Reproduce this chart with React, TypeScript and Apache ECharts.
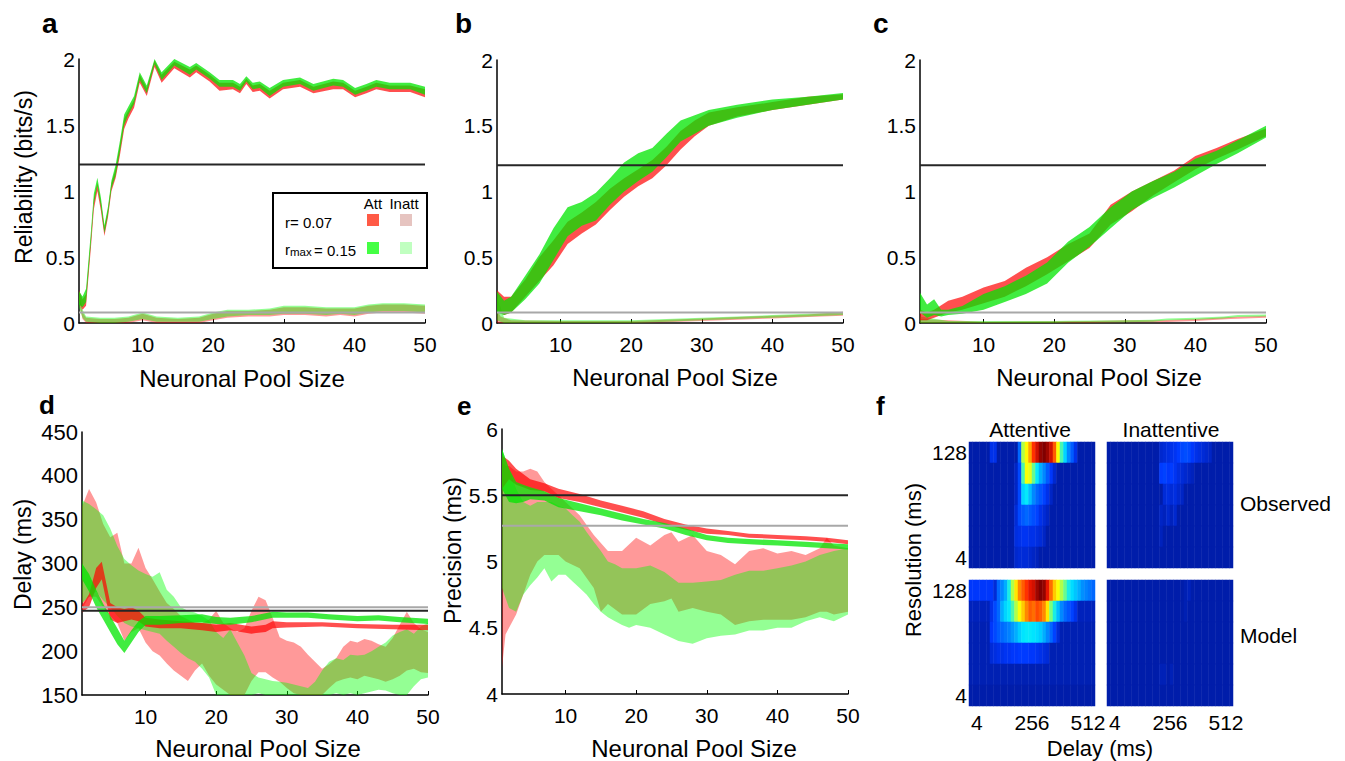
import { useEffect, useRef } from 'react';
import * as echarts from 'echarts';

type Band = [number, number, number][]; // [pool size, lower, upper]

const FONT = 'Liberation Sans';

// ---- shared axis values ----
const POOL_MIN = 1;
const POOL_MAX = 50;
const POOL_TICKS = [10, 20, 30, 40, 50];

// ---- a: reliability (bits/s), all neurons ----
const A_ATT_R: Band = [
  [1, 0.16, 0.25], [1.5, 0.1, 0.18], [2, 0.13, 0.22], [2.7, 0.58, 0.66], [3.1, 0.86, 0.94], [3.6, 1.0, 1.06],
  [4.1, 0.85, 0.92], [4.6, 0.66, 0.72], [5.1, 0.8, 0.86], [5.6, 1.0, 1.06], [6.2, 1.1, 1.17], [6.8, 1.27, 1.35],
  [7.4, 1.47, 1.55], [8, 1.55, 1.61], [8.8, 1.63, 1.69], [9.6, 1.82, 1.88], [10.6, 1.72, 1.78], [11.7, 1.94, 1.99],
  [12.7, 1.82, 1.88], [14.5, 1.93, 1.98], [16.7, 1.86, 1.92], [17.6, 1.9, 1.95], [19.5, 1.83, 1.88], [20.9, 1.76, 1.82],
  [22.8, 1.77, 1.82], [23.8, 1.74, 1.79], [24.7, 1.81, 1.85], [25.6, 1.75, 1.8], [26.6, 1.76, 1.81], [28, 1.7, 1.76],
  [29.9, 1.77, 1.82], [32.3, 1.79, 1.84], [34.2, 1.74, 1.79], [37, 1.77, 1.83], [38.4, 1.77, 1.82], [40.1, 1.71, 1.76],
  [41.7, 1.74, 1.79], [43.1, 1.77, 1.82], [45, 1.75, 1.8], [47.9, 1.75, 1.8], [50, 1.71, 1.77],
];
const A_ATT_RMAX: Band = [
  [1, 0.14, 0.24], [1.5, 0.12, 0.2], [2, 0.16, 0.26], [2.7, 0.62, 0.7], [3.1, 0.9, 0.98], [3.6, 1.04, 1.1],
  [4.1, 0.88, 0.95], [4.6, 0.68, 0.74], [5.1, 0.82, 0.88], [5.6, 1.02, 1.08], [6.2, 1.12, 1.2], [6.8, 1.3, 1.38],
  [7.4, 1.5, 1.58], [8, 1.58, 1.64], [8.8, 1.66, 1.72], [9.6, 1.84, 1.9], [10.6, 1.74, 1.8], [11.7, 1.96, 2.01],
  [12.7, 1.84, 1.9], [14.5, 1.95, 2.0], [16.7, 1.88, 1.94], [17.6, 1.92, 1.97], [19.5, 1.85, 1.9], [20.9, 1.79, 1.84],
  [22.8, 1.79, 1.84], [23.8, 1.76, 1.81], [24.7, 1.83, 1.87], [25.6, 1.77, 1.82], [26.6, 1.78, 1.83], [28, 1.72, 1.78],
  [29.9, 1.79, 1.84], [32.3, 1.81, 1.86], [34.2, 1.76, 1.81], [37, 1.8, 1.85], [38.4, 1.79, 1.84], [40.1, 1.73, 1.78],
  [41.7, 1.76, 1.81], [43.1, 1.79, 1.84], [45, 1.77, 1.82], [47.9, 1.77, 1.82], [50, 1.73, 1.79],
];
const A_INATT_R: Band = [
  [1, 0.15, 0.24], [1.5, 0.03, 0.08], [2, 0.0, 0.04], [4, 0.0, 0.03], [6, 0.0, 0.03], [8, 0.0, 0.04], [10, 0.02, 0.07],
  [12, 0.0, 0.04], [15, 0.0, 0.03], [18, 0.0, 0.04], [20, 0.02, 0.07], [22, 0.04, 0.09], [25, 0.05, 0.09], [28, 0.05, 0.1],
  [30, 0.06, 0.12], [33, 0.06, 0.12], [36, 0.05, 0.11], [38, 0.06, 0.11], [40, 0.05, 0.11], [42, 0.07, 0.13],
  [44, 0.08, 0.14], [47, 0.08, 0.14], [50, 0.07, 0.13],
];
const A_INATT_RMAX: Band = [
  [1, 0.12, 0.22], [1.5, 0.04, 0.1], [2, 0.01, 0.05], [4, 0.0, 0.04], [6, 0.0, 0.04], [8, 0.01, 0.05], [10, 0.03, 0.08],
  [12, 0.01, 0.05], [15, 0.01, 0.04], [18, 0.01, 0.05], [20, 0.03, 0.08], [22, 0.05, 0.1], [25, 0.06, 0.1], [28, 0.06, 0.11],
  [30, 0.07, 0.13], [33, 0.07, 0.13], [36, 0.06, 0.12], [38, 0.07, 0.12], [40, 0.06, 0.12], [42, 0.08, 0.14],
  [44, 0.09, 0.15], [47, 0.09, 0.15], [50, 0.08, 0.14],
];

// ---- b: reliability (bits/s), second neuron group ----
const B_ATT_R: Band = [
  [1, 0.1, 0.25], [2, 0.06, 0.2], [3, 0.08, 0.2], [5, 0.2, 0.33], [7, 0.32, 0.5], [9, 0.44, 0.63], [11, 0.6, 0.77],
  [13, 0.68, 0.84], [15, 0.75, 0.92], [17, 0.86, 1.02], [19, 0.96, 1.1], [21, 1.04, 1.17], [23, 1.1, 1.24], [25, 1.2, 1.34],
  [27, 1.32, 1.46], [29, 1.42, 1.54], [31, 1.5, 1.6], [35, 1.57, 1.64], [40, 1.62, 1.68], [45, 1.66, 1.72], [50, 1.7, 1.74],
];
const B_ATT_RMAX: Band = [
  [1, 0.08, 0.24], [2, 0.06, 0.17], [3, 0.08, 0.2], [5, 0.18, 0.36], [7, 0.3, 0.52], [9, 0.48, 0.72], [11, 0.66, 0.88],
  [13, 0.74, 0.92], [15, 0.78, 0.99], [17, 0.9, 1.1], [19, 1.0, 1.22], [21, 1.08, 1.29], [23, 1.15, 1.33], [25, 1.26, 1.44],
  [27, 1.38, 1.54], [29, 1.44, 1.58], [31, 1.5, 1.62], [35, 1.56, 1.66], [40, 1.62, 1.7], [45, 1.66, 1.72], [50, 1.7, 1.75],
];
const B_INATT_R: Band = [
  [1, 0.0, 0.1], [1.5, 0.0, 0.05], [3, 0.0, 0.02], [10, 0.0, 0.015], [20, 0.0, 0.015], [25, 0.005, 0.025],
  [30, 0.015, 0.035], [35, 0.025, 0.045], [40, 0.035, 0.055], [45, 0.045, 0.065], [50, 0.055, 0.085],
];
const B_INATT_RMAX: Band = [
  [1, 0.02, 0.2], [1.5, 0.01, 0.12], [2, 0.0, 0.04], [5, 0.0, 0.02], [10, 0.0, 0.02], [15, 0.0, 0.02], [20, 0.0, 0.02],
  [25, 0.01, 0.03], [30, 0.02, 0.04], [35, 0.03, 0.05], [40, 0.04, 0.06], [45, 0.05, 0.07], [50, 0.06, 0.08],
];

// ---- c: reliability (bits/s), third neuron group ----
const C_ATT_R: Band = [
  [1, 0.02, 0.1], [2, 0.02, 0.08], [3, 0.04, 0.1], [5, 0.08, 0.17], [7, 0.1, 0.2], [10, 0.15, 0.27], [13, 0.2, 0.32],
  [16, 0.28, 0.42], [19, 0.37, 0.5], [22, 0.47, 0.6], [25, 0.57, 0.68], [28, 0.75, 0.9], [31, 0.85, 1.0], [34, 0.97, 1.08],
  [37, 1.07, 1.16], [40, 1.17, 1.27], [43, 1.25, 1.33], [46, 1.32, 1.4], [50, 1.42, 1.48],
];
const C_ATT_RMAX: Band = [
  [1, 0.08, 0.23], [2, 0.04, 0.14], [3, 0.06, 0.18], [4, 0.05, 0.1], [5, 0.06, 0.1], [7, 0.07, 0.13], [10, 0.1, 0.22],
  [13, 0.16, 0.28], [16, 0.22, 0.36], [19, 0.3, 0.46], [22, 0.46, 0.62], [25, 0.58, 0.73], [28, 0.72, 0.88], [31, 0.86, 1.0],
  [34, 0.95, 1.08], [37, 1.03, 1.15], [40, 1.12, 1.25], [43, 1.21, 1.31], [46, 1.29, 1.39], [50, 1.41, 1.5],
];
const C_INATT_R: Band = [
  [1, 0.0, 0.03], [10, 0.0, 0.01], [25, 0.0, 0.015], [30, 0.005, 0.02], [35, 0.005, 0.02], [40, 0.015, 0.03],
  [45, 0.03, 0.045], [50, 0.04, 0.055],
];
const C_INATT_RMAX: Band = [
  [1, 0.0, 0.05], [5, 0.0, 0.015], [10, 0.0, 0.015], [20, 0.0, 0.015], [22, 0.003, 0.018], [30, 0.005, 0.02],
  [34, 0.01, 0.025], [36, 0.02, 0.035], [40, 0.025, 0.04], [44, 0.035, 0.05], [46, 0.045, 0.06], [50, 0.05, 0.065],
];

const RELIABILITY_REF = 1.2;
const RELIABILITY_BASE = 0.08;

// ---- d: delay (ms) ----
const D_ATT_R: Band = [
  [1, 244, 252], [2, 250, 265], [3, 272, 295], [3.8, 282, 302], [4.5, 255, 275], [5, 236, 255], [6, 232, 250],
  [7, 234, 248], [8, 236, 250], [9, 234, 246], [10, 228, 238], [12, 226, 236], [15, 226, 234], [18, 224, 232],
  [20, 222, 230], [22, 224, 232], [25, 220, 228], [27, 222, 230], [28, 226, 234], [30, 227, 233], [35, 228, 233],
  [40, 226, 231], [45, 225, 230], [50, 224, 230],
];
const D_ATT_RMAX: Band = [
  [1, 282, 300], [2, 268, 288], [3, 250, 270], [4, 236, 254], [5, 222, 240], [6, 208, 226], [7, 198, 212],
  [8, 210, 224], [9, 222, 234], [10, 230, 240], [12, 230, 240], [15, 232, 241], [18, 233, 242], [20, 231, 239],
  [22, 230, 238], [25, 233, 240], [28, 238, 245], [30, 238, 244], [33, 238, 244], [36, 236, 242], [40, 234, 240],
  [43, 235, 241], [46, 233, 239], [50, 231, 237],
];
const D_INATT_R: Band = [
  [1, 248, 365], [2, 262, 385], [3, 262, 370], [4, 250, 345], [5, 240, 330], [6, 232, 335], [7, 212, 300],
  [8, 222, 300], [9, 226, 318], [10, 210, 295], [11, 200, 282], [12, 195, 268], [13, 186, 255], [14, 178, 248],
  [15, 172, 240], [16, 166, 236], [17, 178, 232], [18, 186, 232], [19, 172, 236], [20, 162, 246], [21, 156, 232],
  [22, 150, 226], [23, 142, 222], [24, 150, 226], [25, 166, 246], [26, 176, 262], [27, 176, 258], [28, 170, 238],
  [29, 165, 216], [30, 158, 212], [31, 152, 210], [32, 142, 205], [33, 132, 196], [34, 140, 188], [35, 150, 180],
  [36, 158, 185], [37, 165, 192], [38, 168, 205], [39, 170, 212], [40, 168, 210], [41, 172, 214], [42, 170, 212],
  [43, 168, 208], [44, 165, 205], [45, 168, 215], [46, 172, 230], [47, 178, 245], [48, 180, 232], [49, 176, 225],
  [50, 175, 222],
];
const D_INATT_RMAX: Band = [
  [1, 255, 372], [2, 262, 368], [3, 268, 362], [4, 258, 355], [5, 250, 340], [6, 240, 320], [7, 232, 305],
  [8, 228, 298], [9, 226, 292], [10, 224, 288], [11, 222, 285], [12, 220, 290], [13, 212, 270], [14, 205, 262],
  [15, 198, 250], [16, 192, 246], [17, 188, 244], [18, 180, 240], [19, 170, 235], [20, 150, 222], [21, 142, 215],
  [22, 140, 225], [23, 138, 210], [24, 140, 195], [25, 150, 175], [26, 152, 170], [27, 150, 168], [28, 150, 166],
  [29, 148, 165], [30, 146, 164], [31, 145, 162], [32, 143, 160], [33, 140, 158], [34, 142, 165], [35, 145, 178],
  [36, 150, 188], [37, 152, 192], [38, 150, 190], [39, 152, 196], [40, 150, 195], [41, 152, 196], [42, 154, 200],
  [43, 156, 205], [44, 155, 210], [45, 152, 218], [46, 150, 222], [47, 148, 225], [48, 160, 220], [49, 168, 228],
  [50, 170, 232],
];
const DELAY_REF = 246;
const DELAY_BASE = 250;

// ---- e: precision (ms) ----
const E_ATT_R: Band = [
  [1, 5.55, 5.8], [2, 5.62, 5.76], [3, 5.58, 5.7], [4, 5.56, 5.66], [5, 5.54, 5.62], [7, 5.53, 5.59], [9, 5.48, 5.55],
  [12, 5.45, 5.51], [15, 5.41, 5.46], [18, 5.37, 5.42], [21, 5.33, 5.38], [24, 5.28, 5.32], [27, 5.24, 5.28],
  [30, 5.21, 5.25], [33, 5.2, 5.23], [36, 5.18, 5.21], [40, 5.17, 5.2], [44, 5.16, 5.19], [47, 5.15, 5.18], [50, 5.13, 5.16],
];
const E_ATT_RMAX: Band = [
  [1, 5.55, 5.85], [2, 5.45, 5.7], [3, 5.44, 5.6], [4, 5.45, 5.58], [5, 5.47, 5.56], [7, 5.46, 5.53], [9, 5.41, 5.48],
  [12, 5.38, 5.44], [15, 5.35, 5.4], [18, 5.31, 5.36], [21, 5.28, 5.32], [24, 5.25, 5.29], [27, 5.2, 5.25],
  [30, 5.16, 5.2], [33, 5.14, 5.18], [36, 5.13, 5.17], [40, 5.12, 5.16], [44, 5.11, 5.15], [47, 5.1, 5.14], [50, 5.09, 5.13],
];
const E_INATT_R: Band = [
  [1, 4.2, 5.75], [1.5, 4.45, 5.72], [2, 4.5, 5.72], [3, 4.6, 5.68], [4, 4.75, 5.68], [5, 4.9, 5.7], [6, 5.0, 5.68],
  [7, 5.05, 5.6], [8, 5.05, 5.55], [9, 5.05, 5.5], [10, 5.0, 5.45], [12, 4.95, 5.35], [14, 4.8, 5.2], [15, 4.62, 5.14],
  [16, 4.68, 5.08], [18, 4.6, 5.08], [20, 4.6, 5.18], [22, 4.68, 5.12], [24, 4.7, 5.2], [25, 4.72, 5.22], [26, 4.62, 5.15],
  [28, 4.65, 5.2], [30, 4.62, 5.08], [32, 4.6, 5.05], [34, 4.52, 4.98], [36, 4.55, 5.08], [38, 4.56, 5.1], [40, 4.56, 5.06],
  [42, 4.56, 5.08], [44, 4.58, 5.05], [46, 4.62, 5.1], [47, 4.62, 5.18], [48, 4.6, 5.12], [50, 4.62, 5.1],
];
const E_INATT_RMAX: Band = [
  [1, 4.8, 5.85], [2, 4.65, 5.7], [3, 4.62, 5.55], [4, 4.75, 5.45], [5, 4.82, 5.42], [6, 4.88, 5.45], [7, 4.95, 5.45],
  [8, 4.85, 5.45], [9, 4.9, 5.42], [10, 4.9, 5.4], [11, 4.85, 5.35], [12, 4.8, 5.3], [13, 4.75, 5.22], [14, 4.68, 5.15],
  [15, 4.62, 5.08], [16, 4.58, 5.0], [17, 4.55, 4.98], [18, 4.52, 4.95], [19, 4.5, 4.95], [20, 4.52, 4.95], [22, 4.5, 4.97],
  [24, 4.45, 4.92], [26, 4.4, 4.84], [28, 4.38, 4.84], [30, 4.42, 4.85], [32, 4.44, 4.86], [34, 4.45, 4.9], [36, 4.48, 4.93],
  [38, 4.48, 4.93], [40, 4.5, 4.95], [42, 4.5, 4.97], [44, 4.55, 5.0], [46, 4.58, 5.05], [48, 4.55, 5.08], [50, 4.6, 5.1],
];
const PRECISION_REF = 5.5;
const PRECISION_BASE = 5.27;

// ---- f: information maps, rows from 128 ms (top) down to 4 ms ----
const RESOLUTIONS = ['4', '8', '16', '32', '64', '128'];
const RESOLUTION_LABELS = ['4', '128'];
const DELAY_BINS = [
  -24, -8, 8, 24, 40, 56, 72, 88, 104, 120, 136, 152, 168, 184, 200, 216, 232, 248,
  264, 280, 296, 312, 328, 344, 360, 376, 392, 408, 424, 440, 456, 472, 488, 504, 520, 536,
];
const DELAY_TICKS = [4, 256, 512];

const OBS_ATT = [
  [0.03, 0.03, 0.03, 0.03, 0.03, 0.03, 0.1, 0.1, 0.03, 0.03, 0.03, 0.03, 0.03, 0.03, 0.2, 0.55, 0.63, 0.72, 0.85, 0.92, 0.98, 1.0, 0.97, 0.92, 0.8, 0.62, 0.45, 0.35, 0.25, 0.18, 0.1, 0.03, 0.03, 0.03, 0.03, 0.03],
  [0.03, 0.03, 0.03, 0.03, 0.03, 0.03, 0.03, 0.03, 0.03, 0.03, 0.03, 0.03, 0.03, 0.06, 0.15, 0.45, 0.62, 0.6, 0.48, 0.38, 0.3, 0.25, 0.18, 0.12, 0.07, 0.03, 0.03, 0.03, 0.03, 0.03, 0.03, 0.03, 0.03, 0.03, 0.03, 0.03],
  [0.03, 0.03, 0.03, 0.03, 0.03, 0.03, 0.03, 0.03, 0.03, 0.03, 0.03, 0.03, 0.03, 0.06, 0.15, 0.35, 0.38, 0.32, 0.25, 0.2, 0.17, 0.14, 0.1, 0.06, 0.03, 0.03, 0.03, 0.03, 0.03, 0.03, 0.03, 0.03, 0.03, 0.03, 0.03, 0.03],
  [0.03, 0.03, 0.03, 0.03, 0.03, 0.03, 0.03, 0.03, 0.03, 0.03, 0.03, 0.03, 0.03, 0.08, 0.15, 0.18, 0.2, 0.18, 0.16, 0.14, 0.1, 0.08, 0.06, 0.03, 0.03, 0.03, 0.03, 0.03, 0.03, 0.03, 0.03, 0.03, 0.03, 0.03, 0.03, 0.03],
  [0.03, 0.03, 0.03, 0.03, 0.03, 0.03, 0.03, 0.03, 0.03, 0.03, 0.03, 0.03, 0.03, 0.09, 0.1, 0.11, 0.11, 0.1, 0.1, 0.09, 0.08, 0.06, 0.03, 0.03, 0.03, 0.03, 0.03, 0.03, 0.03, 0.03, 0.03, 0.03, 0.03, 0.03, 0.03, 0.03],
  [0.03, 0.03, 0.03, 0.03, 0.03, 0.03, 0.03, 0.03, 0.03, 0.03, 0.03, 0.03, 0.03, 0.07, 0.08, 0.08, 0.08, 0.07, 0.06, 0.05, 0.03, 0.03, 0.03, 0.03, 0.03, 0.03, 0.03, 0.03, 0.03, 0.03, 0.03, 0.03, 0.03, 0.03, 0.03, 0.03],
];
const OBS_INATT = [
  [0.03, 0.03, 0.03, 0.03, 0.03, 0.03, 0.03, 0.03, 0.03, 0.03, 0.03, 0.03, 0.03, 0.03, 0.03, 0.07, 0.08, 0.09, 0.1, 0.11, 0.13, 0.15, 0.16, 0.15, 0.12, 0.1, 0.09, 0.08, 0.07, 0.06, 0.03, 0.03, 0.03, 0.03, 0.03, 0.03],
  [0.03, 0.03, 0.03, 0.03, 0.03, 0.03, 0.03, 0.03, 0.03, 0.03, 0.03, 0.03, 0.03, 0.03, 0.03, 0.13, 0.14, 0.12, 0.13, 0.11, 0.09, 0.08, 0.07, 0.06, 0.05, 0.03, 0.03, 0.03, 0.03, 0.03, 0.03, 0.03, 0.03, 0.03, 0.03, 0.03],
  [0.03, 0.03, 0.03, 0.03, 0.03, 0.03, 0.03, 0.03, 0.03, 0.03, 0.03, 0.03, 0.03, 0.03, 0.03, 0.03, 0.08, 0.09, 0.08, 0.09, 0.07, 0.06, 0.03, 0.03, 0.03, 0.03, 0.03, 0.03, 0.03, 0.03, 0.03, 0.03, 0.03, 0.03, 0.03, 0.03],
  [0.03, 0.03, 0.03, 0.03, 0.03, 0.03, 0.03, 0.03, 0.03, 0.03, 0.03, 0.03, 0.03, 0.03, 0.03, 0.06, 0.05, 0.07, 0.05, 0.07, 0.03, 0.03, 0.03, 0.03, 0.03, 0.03, 0.03, 0.03, 0.03, 0.03, 0.03, 0.03, 0.03, 0.03, 0.03, 0.03],
  [0.03, 0.03, 0.03, 0.03, 0.03, 0.03, 0.03, 0.03, 0.03, 0.03, 0.03, 0.03, 0.03, 0.03, 0.03, 0.05, 0.03, 0.03, 0.03, 0.03, 0.03, 0.03, 0.03, 0.03, 0.03, 0.03, 0.03, 0.03, 0.03, 0.03, 0.03, 0.03, 0.03, 0.03, 0.03, 0.03],
  [0.03, 0.03, 0.03, 0.03, 0.03, 0.03, 0.03, 0.03, 0.03, 0.03, 0.03, 0.03, 0.03, 0.03, 0.03, 0.03, 0.03, 0.03, 0.03, 0.03, 0.03, 0.03, 0.03, 0.03, 0.03, 0.03, 0.03, 0.03, 0.03, 0.03, 0.03, 0.03, 0.03, 0.03, 0.03, 0.03],
];
const MOD_ATT = [
  [0.12, 0.12, 0.12, 0.12, 0.12, 0.12, 0.12, 0.08, 0.2, 0.25, 0.3, 0.4, 0.55, 0.65, 0.75, 0.8, 0.85, 0.9, 0.92, 0.97, 1.0, 0.98, 0.9, 0.78, 0.68, 0.62, 0.55, 0.48, 0.4, 0.36, 0.33, 0.3, 0.26, 0.24, 0.22, 0.2],
  [0.05, 0.05, 0.05, 0.05, 0.05, 0.05, 0.1, 0.15, 0.2, 0.3, 0.35, 0.38, 0.45, 0.55, 0.62, 0.68, 0.75, 0.8, 0.78, 0.82, 0.8, 0.75, 0.65, 0.5, 0.4, 0.32, 0.25, 0.2, 0.17, 0.14, 0.1, 0.05, 0.05, 0.05, 0.05, 0.05],
  [0.04, 0.04, 0.04, 0.04, 0.04, 0.04, 0.12, 0.15, 0.18, 0.2, 0.22, 0.24, 0.27, 0.3, 0.34, 0.37, 0.38, 0.38, 0.37, 0.36, 0.34, 0.3, 0.25, 0.2, 0.14, 0.08, 0.04, 0.04, 0.04, 0.04, 0.04, 0.04, 0.04, 0.04, 0.04, 0.04],
  [0.04, 0.04, 0.04, 0.04, 0.04, 0.04, 0.08, 0.09, 0.1, 0.1, 0.11, 0.11, 0.12, 0.12, 0.13, 0.13, 0.13, 0.12, 0.12, 0.11, 0.1, 0.09, 0.08, 0.04, 0.04, 0.04, 0.04, 0.04, 0.04, 0.04, 0.04, 0.04, 0.04, 0.04, 0.04, 0.04],
  [0.04, 0.04, 0.04, 0.04, 0.04, 0.04, 0.04, 0.04, 0.04, 0.04, 0.04, 0.04, 0.04, 0.04, 0.04, 0.04, 0.04, 0.04, 0.04, 0.04, 0.04, 0.04, 0.04, 0.04, 0.04, 0.04, 0.04, 0.04, 0.04, 0.04, 0.04, 0.04, 0.04, 0.04, 0.04, 0.04],
  [0.03, 0.03, 0.03, 0.03, 0.03, 0.03, 0.03, 0.03, 0.03, 0.03, 0.03, 0.03, 0.03, 0.03, 0.03, 0.03, 0.03, 0.03, 0.03, 0.03, 0.03, 0.03, 0.03, 0.03, 0.03, 0.03, 0.03, 0.03, 0.03, 0.03, 0.03, 0.03, 0.03, 0.03, 0.03, 0.03],
];
const MOD_INATT = [
  [0.03, 0.03, 0.03, 0.03, 0.03, 0.03, 0.03, 0.03, 0.03, 0.03, 0.03, 0.03, 0.03, 0.03, 0.03, 0.03, 0.03, 0.03, 0.03, 0.03, 0.03, 0.03, 0.04, 0.05, 0.03, 0.03, 0.03, 0.03, 0.03, 0.03, 0.03, 0.03, 0.03, 0.03, 0.03, 0.03],
  [0.03, 0.03, 0.03, 0.03, 0.03, 0.03, 0.03, 0.03, 0.03, 0.03, 0.03, 0.03, 0.03, 0.03, 0.03, 0.03, 0.03, 0.03, 0.03, 0.03, 0.03, 0.03, 0.04, 0.03, 0.03, 0.03, 0.03, 0.03, 0.03, 0.03, 0.03, 0.03, 0.03, 0.03, 0.03, 0.03],
  [0.03, 0.03, 0.03, 0.03, 0.03, 0.03, 0.03, 0.03, 0.03, 0.03, 0.03, 0.03, 0.03, 0.03, 0.03, 0.03, 0.03, 0.03, 0.03, 0.03, 0.03, 0.03, 0.03, 0.03, 0.03, 0.03, 0.03, 0.03, 0.03, 0.03, 0.03, 0.03, 0.03, 0.03, 0.03, 0.03],
  [0.03, 0.03, 0.03, 0.03, 0.03, 0.03, 0.03, 0.03, 0.03, 0.03, 0.03, 0.03, 0.03, 0.03, 0.03, 0.03, 0.03, 0.03, 0.03, 0.03, 0.03, 0.03, 0.03, 0.03, 0.03, 0.03, 0.03, 0.03, 0.03, 0.03, 0.03, 0.03, 0.03, 0.03, 0.03, 0.03],
  [0.03, 0.03, 0.03, 0.03, 0.03, 0.03, 0.03, 0.03, 0.03, 0.03, 0.03, 0.03, 0.03, 0.03, 0.03, 0.045, 0.045, 0.03, 0.045, 0.03, 0.03, 0.03, 0.03, 0.03, 0.03, 0.03, 0.03, 0.03, 0.03, 0.03, 0.03, 0.03, 0.03, 0.03, 0.03, 0.03],
  [0.03, 0.03, 0.03, 0.03, 0.03, 0.03, 0.03, 0.03, 0.03, 0.03, 0.03, 0.03, 0.03, 0.03, 0.03, 0.03, 0.03, 0.03, 0.03, 0.03, 0.03, 0.03, 0.03, 0.03, 0.03, 0.03, 0.03, 0.03, 0.03, 0.03, 0.03, 0.03, 0.03, 0.03, 0.03, 0.03],
];

// ---- styling ----
const ATT_R = 'rgba(255,0,0,0.69)';
const ATT_G = 'rgba(0,230,0,0.75)';
const INATT_R = 'rgba(255,0,0,0.4)';
const INATT_G = 'rgba(0,255,0,0.42)';
const REF_BLACK = '#262626';
const REF_GRAY = '#a8a8a8';
const JET = ['#00148f', '#0038ff', '#0088ff', '#00e8ff', '#7cff7c', '#ffff00', '#ff8800', '#ff1a00', '#800000'];

const LINE_GRIDS = [
  { left: 79, top: 59, width: 346, height: 264 },
  { left: 497, top: 60, width: 346, height: 263 },
  { left: 920, top: 60, width: 346, height: 263 },
  { left: 82, top: 432, width: 346, height: 263 },
  { left: 502, top: 429, width: 346, height: 265 },
];
const MAP_GRIDS = [
  { left: 969, top: 442, width: 126, height: 126 },
  { left: 1107, top: 442, width: 126, height: 126 },
  { left: 969, top: 580, width: 126, height: 126 },
  { left: 1107, top: 580, width: 126, height: 126 },
];

function band(axis: number, rows: Band, fill: string) {
  return {
    type: 'custom',
    xAxisIndex: axis,
    yAxisIndex: axis,
    silent: true,
    data: rows,
    encode: { x: 0, y: [1, 2] },
    renderItem: (params: any, api: any) => {
      if (params.dataIndex !== 0) return null;
      const cs = params.coordSys;
      const clampY = (p: number[]) => [p[0], Math.min(Math.max(p[1], cs.y), cs.y + cs.height)];
      const upper = rows.map((r) => clampY(api.coord([r[0], r[2]])));
      const lower = rows.map((r) => clampY(api.coord([r[0], r[1]]))).reverse();
      return { type: 'polygon', shape: { points: upper.concat(lower) }, style: { fill, lineWidth: 0 } };
    },
  };
}

function refLine(axis: number, value: number, color: string) {
  return {
    type: 'line',
    xAxisIndex: axis,
    yAxisIndex: axis,
    silent: true,
    symbol: 'none',
    data: [[POOL_MIN, value], [POOL_MAX, value]],
    lineStyle: { color, width: 2 },
  };
}

function poolAxis(gridIndex: number, gap: number, shift: number) {
  return {
    type: 'value',
    gridIndex,
    min: POOL_MIN,
    max: POOL_MAX,
    name: 'Neuronal Pool Size',
    nameLocation: 'middle',
    nameGap: gap,
    nameTextStyle: {
      fontSize: 24,
      color: '#000',
      fontFamily: FONT,
      padding: shift >= 0 ? [0, 0, 0, 2 * shift] : [0, -2 * shift, 0, 0],
    },
    axisLine: { show: true, onZero: false, lineStyle: { color: '#000', width: 1.5 } },
    axisTick: { show: true, inside: true, length: 4, customValues: POOL_TICKS, lineStyle: { color: '#000', width: 1 } },
    axisLabel: { customValues: POOL_TICKS, fontSize: 21, color: '#000', fontFamily: FONT, margin: 11 },
    splitLine: { show: false },
  };
}

function valueAxis(gridIndex: number, min: number, max: number, interval: number, fontSize: number, name?: string, gap?: number, lift?: number) {
  return {
    type: 'value',
    gridIndex,
    min,
    max,
    interval,
    name: name || '',
    nameLocation: 'middle',
    nameGap: gap || 0,
    nameTextStyle: { fontSize: 23, color: '#000', fontFamily: FONT, padding: [0, 0, 0, 2 * (lift || 0)] },
    axisLine: { show: true, onZero: false, lineStyle: { color: '#000', width: 1.5 } },
    axisTick: { show: false },
    axisLabel: { fontSize, color: '#000', fontFamily: FONT, margin: 4 },
    splitLine: { show: false },
  };
}

function heatData(rows: number[][]) {
  const out: number[][] = [];
  rows.forEach((row, r) => row.forEach((v, j) => out.push([j, RESOLUTIONS.length - 1 - r, v])));
  return out;
}

function buildOption() {
  const series: any[] = [
    band(0, A_INATT_R, INATT_R), band(0, A_INATT_RMAX, INATT_G), band(0, A_ATT_R, ATT_R), band(0, A_ATT_RMAX, ATT_G),
    refLine(0, RELIABILITY_REF, REF_BLACK), refLine(0, RELIABILITY_BASE, REF_GRAY),
    band(1, B_INATT_R, INATT_R), band(1, B_INATT_RMAX, INATT_G), band(1, B_ATT_R, ATT_R), band(1, B_ATT_RMAX, ATT_G),
    refLine(1, RELIABILITY_REF, REF_BLACK), refLine(1, RELIABILITY_BASE, REF_GRAY),
    band(2, C_INATT_R, INATT_R), band(2, C_INATT_RMAX, INATT_G), band(2, C_ATT_R, ATT_R), band(2, C_ATT_RMAX, ATT_G),
    refLine(2, RELIABILITY_REF, REF_BLACK), refLine(2, RELIABILITY_BASE, REF_GRAY),
    band(3, D_INATT_R, INATT_R), band(3, D_INATT_RMAX, INATT_G), band(3, D_ATT_R, ATT_R), band(3, D_ATT_RMAX, ATT_G),
    refLine(3, DELAY_BASE, REF_GRAY), refLine(3, DELAY_REF, REF_BLACK),
    band(4, E_INATT_R, INATT_R), band(4, E_INATT_RMAX, INATT_G), band(4, E_ATT_R, ATT_R), band(4, E_ATT_RMAX, ATT_G),
    refLine(4, PRECISION_REF, REF_BLACK), refLine(4, PRECISION_BASE, REF_GRAY),
  ];
  const maps = [OBS_ATT, OBS_INATT, MOD_ATT, MOD_INATT];
  const heatIndex: number[] = [];
  maps.forEach((rows, k) => {
    heatIndex.push(series.length);
    series.push({
      type: 'heatmap',
      xAxisIndex: 5 + k,
      yAxisIndex: 5 + k,
      silent: true,
      data: heatData(rows),
      itemStyle: { borderWidth: 0 },
    });
  });

  const grids = [...LINE_GRIDS, ...MAP_GRIDS].map((g) => ({ ...g, containLabel: false, outerBoundsMode: 'none' }));

  const xAxis: any[] = [
    poolAxis(0, 43, -10),
    poolAxis(1, 42, 5),
    poolAxis(2, 42, 6),
    poolAxis(3, 41, 3),
    poolAxis(4, 42, 19),
    ...MAP_GRIDS.map((_, k) => ({
      type: 'category',
      gridIndex: 5 + k,
      position: 'top',
      data: DELAY_BINS,
      show: false,
    })),
    ...[7, 8].map((gridIndex) => ({
      type: 'value',
      gridIndex,
      position: 'bottom',
      min: -32,
      max: 544,
      axisLine: { show: false },
      axisTick: { show: false },
      splitLine: { show: false },
      axisLabel: { customValues: DELAY_TICKS, fontSize: 21, color: '#000', fontFamily: FONT, margin: 6 },
    })),
  ];

  const yAxis: any[] = [
    valueAxis(0, 0, 2, 0.5, 21, 'Reliability (bits/s)', 44, 14),
    valueAxis(1, 0, 2, 0.5, 21),
    valueAxis(2, 0, 2, 0.5, 21),
    valueAxis(3, 150, 450, 50, 22, 'Delay (ms)', 48, 9),
    valueAxis(4, 4, 6, 0.5, 21, 'Precision (ms)', 37, 11),
    ...MAP_GRIDS.map((_, k) => ({
      type: 'category',
      gridIndex: 5 + k,
      data: RESOLUTIONS,
      axisLine: { show: false },
      axisTick: { show: false },
      splitLine: { show: false },
      axisLabel: {
        show: k % 2 === 0,
        interval: 0,
        fontSize: 21,
        color: '#000',
        fontFamily: FONT,
        margin: 2,
        formatter: (v: string) => (RESOLUTION_LABELS.includes(v) ? v : ''),
      },
    })),
  ];

  const txt = (text: string, x: number, y: number, extra: any = {}) => ({
    type: 'text',
    x,
    y,
    silent: true,
    rotation: extra.rotation || 0,
    style: {
      text,
      fontFamily: FONT,
      fontSize: extra.fontSize || 21,
      fontWeight: extra.fontWeight || 'normal',
      fill: '#000',
      align: extra.align || 'left',
      verticalAlign: 'middle',
    },
  });

  const graphic: any[] = [
    // panel letters
    txt('a', 42, 23, { fontSize: 28, fontWeight: 'bold' }),
    txt('b', 455, 23, { fontSize: 28, fontWeight: 'bold' }),
    txt('c', 873, 23, { fontSize: 28, fontWeight: 'bold' }),
    txt('d', 39, 405, { fontSize: 26, fontWeight: 'bold' }),
    txt('e', 457, 406, { fontSize: 26, fontWeight: 'bold' }),
    txt('f', 876, 406, { fontSize: 26, fontWeight: 'bold' }),
    // legend of panel a
    {
      type: 'rect',
      silent: true,
      shape: { x: 273, y: 193, width: 154, height: 75 },
      style: { fill: '#fff', stroke: '#000', lineWidth: 2 },
    },
    txt('Att', 373, 203, { fontSize: 15, align: 'center' }),
    txt('Inatt', 404, 203, { fontSize: 15, align: 'center' }),
    txt('r= 0.07', 285, 222, { fontSize: 15 }),
    txt('r', 285, 249, { fontSize: 15 }),
    txt('max', 290, 252, { fontSize: 11.5 }),
    txt('= 0.15', 314, 250, { fontSize: 15 }),
    { type: 'rect', silent: true, shape: { x: 367, y: 214, width: 12, height: 12 }, style: { fill: '#ff5a46' } },
    { type: 'rect', silent: true, shape: { x: 400, y: 214, width: 12, height: 12 }, style: { fill: '#e6c4c0' } },
    { type: 'rect', silent: true, shape: { x: 367, y: 242, width: 12, height: 12 }, style: { fill: '#44ff44' } },
    { type: 'rect', silent: true, shape: { x: 400, y: 242, width: 12, height: 12 }, style: { fill: '#c0ffc0' } },
    // panel f titles
    txt('Attentive', 1030, 429, { align: 'center' }),
    txt('Inattentive', 1171, 429, { align: 'center' }),
    txt('Observed', 1240, 503),
    txt('Model', 1240, 635),
    txt('Resolution (ms)', 913, 560, { align: 'center', rotation: Math.PI / 2, fontSize: 22 }),
    txt('Delay (ms)', 1100, 748, { align: 'center', fontSize: 22 }),
  ];

  return {
    animation: false,
    backgroundColor: '#fff',
    textStyle: { fontFamily: FONT },
    grid: grids,
    xAxis,
    yAxis,
    visualMap: {
      type: 'continuous',
      show: false,
      min: 0,
      max: 1,
      dimension: 2,
      seriesIndex: heatIndex,
      inRange: { color: JET },
    },
    graphic,
    series,
  };
}

export default function App() {
  const ref = useRef<HTMLDivElement>(null);
  useEffect(() => {
    document.body.style.margin = '0';
    if (!ref.current) return;
    const chart = echarts.init(ref.current, undefined, { renderer: 'svg' });
    chart.setOption(buildOption() as any);
    return () => chart.dispose();
  }, []);
  return <div ref={ref} style={{ width: 1345, height: 761 }} />;
}
